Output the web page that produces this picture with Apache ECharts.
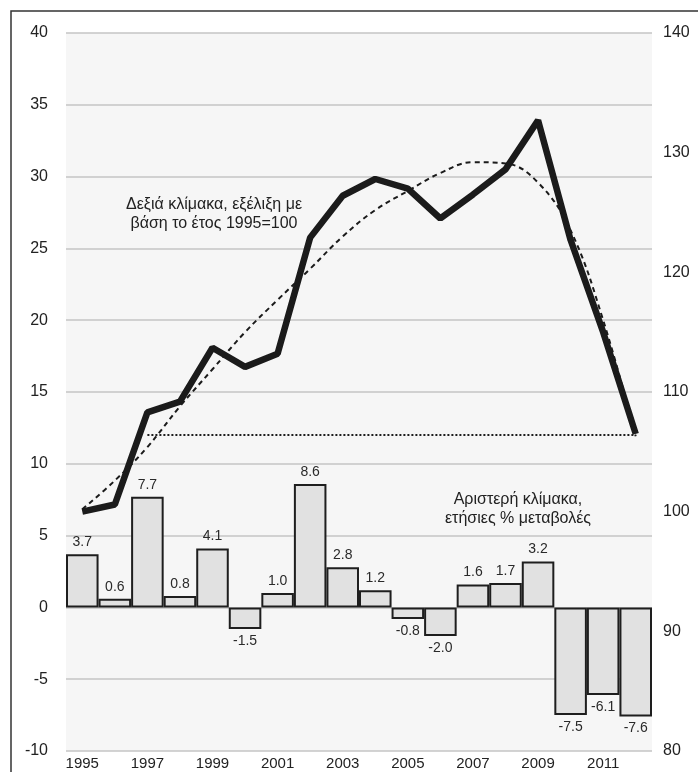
<!DOCTYPE html>
<html>
<head>
<meta charset="utf-8">
<script src="https://cdn.jsdelivr.net/npm/echarts@6/dist/echarts.min.js"></script>
<style>
  html, body { margin: 0; padding: 0; background: #fff; }
  #chart { width: 698px; height: 772px; }
</style>
</head>
<body>
<div id="chart"></div>
<script>
// years on the category axis
const years = ['1995', '1996', '1997', '1998', '1999', '2000', '2001', '2002', '2003',
  '2004', '2005', '2006', '2007', '2008', '2009', '2010', '2011', '2012']

// left scale: annual % changes (bars)
const annualChange = [3.7, 0.6, 7.7, 0.8, 4.1, -1.5, 1.0, 8.6, 2.8, 1.2, -0.8, -2.0, 1.6, 1.7, 3.2, -7.5, -6.1, -7.6]

// right scale: index, 1995=100 (thick line)
const indexValues = [100, 100.6, 108.3, 109.2, 113.7, 112.1, 113.2, 122.9, 126.4, 127.8, 127.0, 124.5, 126.5, 128.6, 132.7, 122.7, 115.0, 106.5]

// right scale: trend curve (dashed)
const trendValues = [100.2, 102.6, 105.4, 108.8, 111.9, 115.0, 117.7, 120.3, 123.0, 125.2, 126.8, 128.3, 129.2, 129.1, 127.5, 123.5, 116.0, 106.3]

// dotted reference level (2012 value) from 1997 to 2012
const refLevel = 106.4
const refFrom = '1997'
const refTo = '2012'

const FONT = '"Liberation Sans", Arial, sans-serif'

const chart = echarts.init(document.getElementById('chart'))

chart.setOption({
  animation: false,
  backgroundColor: '#fff',
  textStyle: { fontFamily: FONT },
  grid: {
    left: 66, right: 46, top: 33, bottom: 21,
    show: true, backgroundColor: '#f6f6f6', borderWidth: 0,
  },
  xAxis: {
    type: 'category',
    data: years,
    axisLine: { show: false },
    axisTick: { show: false },
    axisLabel: { interval: 1, fontSize: 15, color: '#222', margin: 5, fontFamily: FONT },
  },
  yAxis: [
    {
      type: 'value',
      min: -10, max: 40, interval: 5,
      axisLine: { show: false },
      axisTick: { show: false },
      axisLabel: { fontSize: 16, color: '#222', margin: 18, fontFamily: FONT },
      splitLine: { lineStyle: { color: '#c4c4c4', width: 1.5 } },
    },
    {
      type: 'value',
      min: 80, max: 140, interval: 10,
      position: 'right',
      axisLine: { show: false },
      axisTick: { show: false },
      axisLabel: { fontSize: 16, color: '#222', margin: 11, fontFamily: FONT },
      splitLine: { show: false },
    },
  ],
  series: [
    {
      name: 'annual',
      type: 'bar',
      yAxisIndex: 0,
      data: annualChange,
      barCategoryGap: '0%',
      itemStyle: { color: '#e1e1e1', borderColor: '#1e1e1e', borderWidth: 2 },
      label: {
        show: true,
        position: 'outside',
        distance: 5,
        fontSize: 14,
        color: '#2a2a2a',
        fontFamily: FONT,
        formatter: (p) => p.value.toFixed(1),
      },
      z: 2,
    },
    {
      name: 'index',
      type: 'line',
      yAxisIndex: 1,
      data: indexValues,
      symbol: 'none',
      lineStyle: { color: '#1b1b1b', width: 6.5 },
      z: 4,
      markLine: {
        silent: true,
        symbol: 'none',
        label: { show: false },
        lineStyle: { color: '#1e1e1e', width: 2, type: [2, 2] },
        data: [[{ coord: [refFrom, refLevel] }, { coord: [refTo, refLevel] }]],
      },
    },
    {
      name: 'trend',
      type: 'line',
      yAxisIndex: 1,
      data: trendValues,
      smooth: 0.4,
      symbol: 'none',
      lineStyle: { color: '#1b1b1b', width: 2, type: [5, 4] },
      z: 5,
    },
  ],
  graphic: [
    {
      type: 'rect',
      shape: { x: 11, y: 11, width: 720, height: 800 },
      style: { fill: 'none', stroke: '#333', lineWidth: 1.5 },
      silent: true,
      z: -1,
    },
    {
      type: 'text',
      x: 214, y: 214,
      style: {
        text: 'Δεξιά κλίμακα, εξέλιξη με\nβάση το έτος 1995=100',
        font: '16px ' + FONT,
        fill: '#222',
        align: 'center',
        verticalAlign: 'middle',
        lineHeight: 19,
      },
    },
    {
      type: 'text',
      x: 518, y: 509,
      style: {
        text: 'Αριστερή κλίμακα,\nετήσιες % μεταβολές',
        font: '16px ' + FONT,
        fill: '#222',
        align: 'center',
        verticalAlign: 'middle',
        lineHeight: 19,
      },
    },
  ],
})
</script>
</body>
</html>
